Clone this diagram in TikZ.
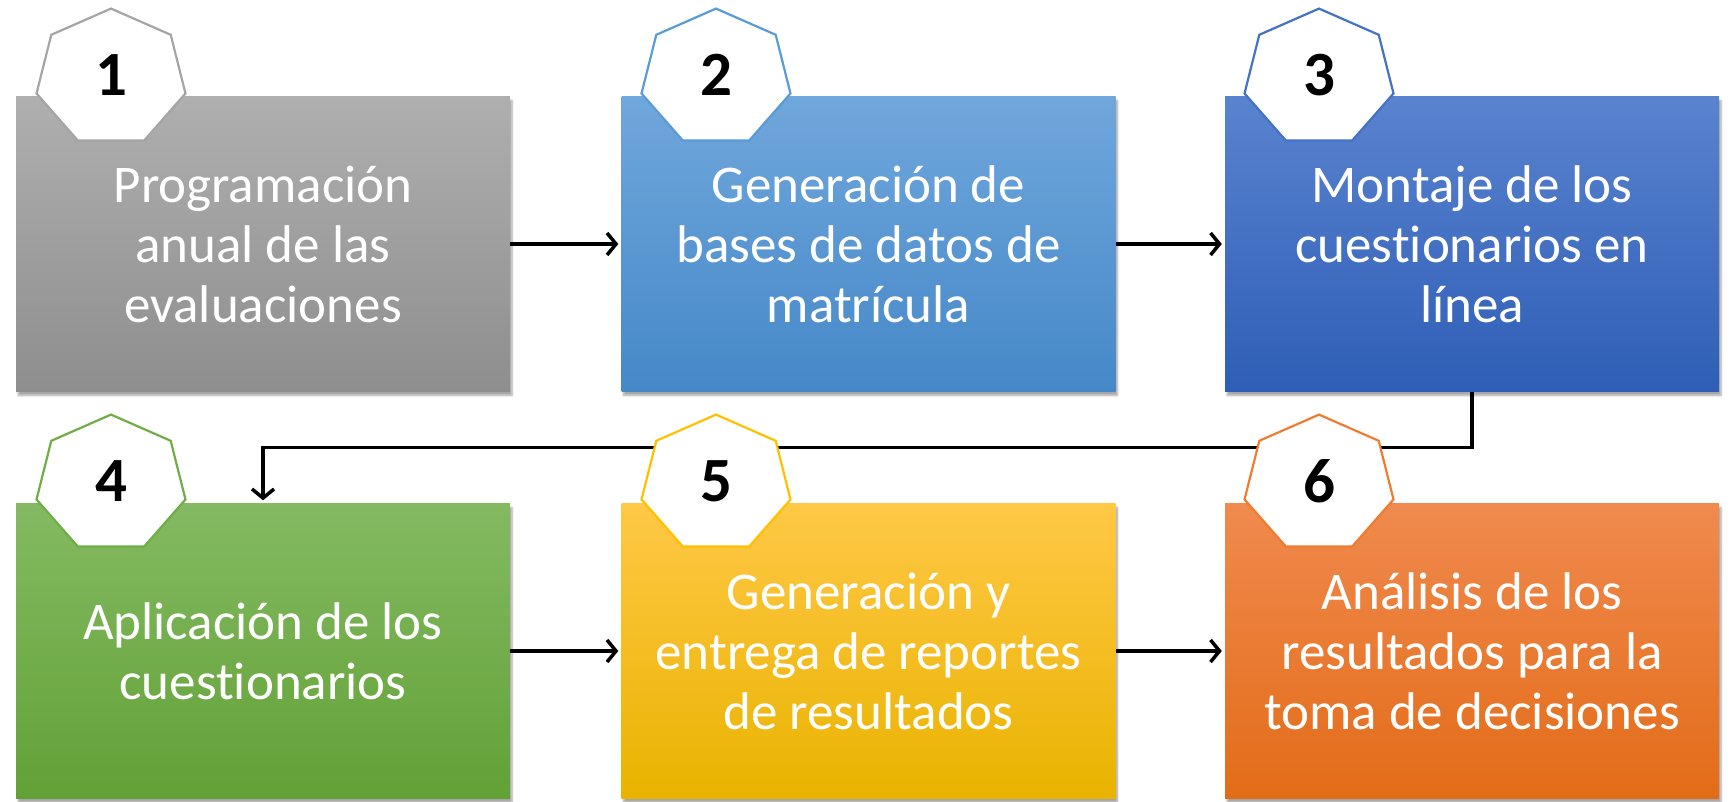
\documentclass[tikz,border=0pt]{standalone}
\usepackage{fontspec}
\setmainfont{Carlito}[Ligatures={NoCommon}]
\usetikzlibrary{arrows.meta,shadows.blur}
\definecolor{g1t}{HTML}{AFAFAF}\definecolor{g1b}{HTML}{8E8E8E}\definecolor{g1}{HTML}{A5A5A5}
\definecolor{b2t}{HTML}{70A7DC}\definecolor{b2b}{HTML}{4588C8}\definecolor{b2}{HTML}{5B9BD5}
\definecolor{b3t}{HTML}{5A83CF}\definecolor{b3b}{HTML}{2E5EB6}\definecolor{b3}{HTML}{4472C4}
\definecolor{g4t}{HTML}{84BA62}\definecolor{g4b}{HTML}{62A136}\definecolor{g4}{HTML}{70AD47}
\definecolor{y5t}{HTML}{FFC846}\definecolor{y5b}{HTML}{E9B300}\definecolor{y5}{HTML}{FFC000}
\definecolor{o6t}{HTML}{F08A4E}\definecolor{o6b}{HTML}{E36C18}\definecolor{o6}{HTML}{ED7D31}
\tikzset{
  stepbox/.style n args={2}{minimum width=494pt, minimum height=295pt, inner sep=0pt,
    top color=#1, bottom color=#2,
    blur shadow={shadow xshift=2pt, shadow yshift=-4pt, shadow opacity=35, shadow blur steps=6},
    text=white, align=center, font=\fontsize{53}{60}\selectfont},
  num/.style={text=black, inner sep=0pt, yshift=3pt, font=\fontsize{63}{63}\selectfont\bfseries},
  conn/.style={line width=3.5pt, -{Straight Barb[length=9pt,width=22pt]}, shorten >=3pt},
  pics/hept/.style={code={
    \draw[line width=2.2pt, draw=#1, fill=white]
      (0,69.4) -- (59.7,43.2) -- (74.5,-15.5) -- (33.2,-62.5) -- (-33.2,-62.5)
      -- (-74.5,-15.5) -- (-59.7,43.2) -- cycle;}}
}
\begin{document}
\begin{tikzpicture}[x=1pt,y=1pt]
\useasboundingbox (0,0) rectangle (1731,802);
% boxes
\node[stepbox={g1t}{g1b}] (b1) at (263,558) {Programación\\anual de las\\evaluaciones};
\node[stepbox={b2t}{b2b}] (b2) at (868.5,558) {Generación de\\bases de datos de\\matrícula};
\node[stepbox={b3t}{b3b}] (b3) at (1472,558) {Montaje de los\\cuestionarios en\\línea};
\node[stepbox={g4t}{g4b}] (b4) at (263,151) {Aplicación de los\\cuestionarios};
\node[stepbox={y5t}{y5b}] (b5) at (868.5,151) {Generación y\\entrega de reportes\\de resultados};
\node[stepbox={o6t}{o6b}] (b6) at (1472,151) {Análisis de los\\resultados para la\\toma de decisiones};
% connectors
\draw[conn] (b1.east) -- (b2.west);
\draw[conn] (b2.east) -- (b3.west);
\draw[conn] (b4.east) -- (b5.west);
\draw[conn] (b5.east) -- (b6.west);
\draw[conn] (b3.south) -- ++(0,-56) -| (b4.north);
% heptagons
\pic at (111,724) {hept=g1};
\pic at (716,724) {hept=b2};
\pic at (1319,724) {hept=b3};
\pic at (111,318) {hept=g4};
\pic at (716,318) {hept=y5};
\pic at (1319,318) {hept=o6};
\node[num] (n1) at (111,724) {1};
\node[num] (n2) at (716,724) {2};
\node[num] (n3) at (1319,724) {3};
\node[num] (n4) at (111,318) {4};
\node[num] (n5) at (716,318) {5};
\node[num] (n6) at (1319,318) {6};
\end{tikzpicture}
\end{document}
